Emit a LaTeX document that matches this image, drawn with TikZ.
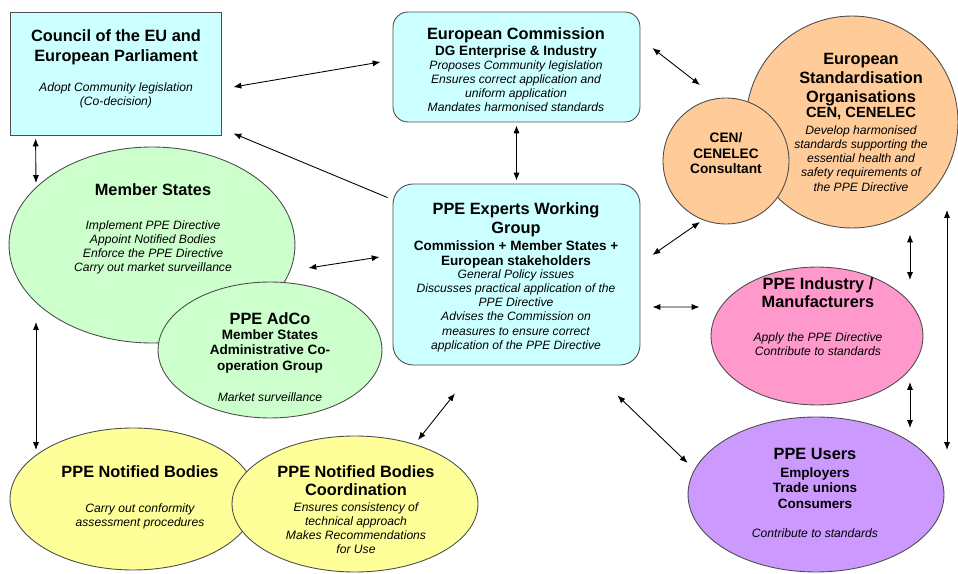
\documentclass[tikz,border=0pt]{standalone}
\usepackage{fontspec}
\setmainfont{Liberation Sans}
\usetikzlibrary{arrows.meta,shapes.geometric}

\definecolor{cyanfill}{HTML}{CCFFFF}
\definecolor{greenfill}{HTML}{CCFFCC}
\definecolor{yellowfill}{HTML}{FFFF99}
\definecolor{orangefill}{HTML}{FFCC99}
\definecolor{pinkfill}{HTML}{FF99CC}
\definecolor{lilacfill}{HTML}{CC99FF}

\newcommand\ppeTitle{\fontsize{9.3}{10.8}\selectfont\bfseries}
\newcommand\ppeSub{\fontsize{7.7}{8.8}\selectfont\bfseries}
\newcommand\ppeNote{\fontsize{6.9}{8.1}\selectfont\itshape}

\tikzset{
	body/.style={draw=black!70, line width=0.5pt, inner sep=0pt},
	oval/.style={body, ellipse},
	ttl/.style={anchor=north, inner sep=0pt, align=center, font=\ppeTitle},
	sbt/.style={anchor=north, inner sep=0pt, align=center, font=\ppeSub},
	nte/.style={anchor=north, inner sep=0pt, align=center, font=\ppeNote},
	link/.style={{Latex[length=4.5pt,width=3.5pt]}-{Latex[length=4.5pt,width=3.5pt]}, line width=0.5pt},
	onelink/.style={-{Latex[length=4.5pt,width=3.5pt]}, line width=0.5pt}
}

\begin{document}
\begin{tikzpicture}[x=0.02cm, y=-0.02cm]
		%%%%% START %%%%%
		\useasboundingbox (0,0) rectangle (958,574);
		
		% Council and Commission
		\node[body, fill=cyanfill, minimum width=4.22cm, minimum height=2.46cm] (cou) at (115.5,73.5) {};
		\node[ttl] (couT) at (116,29) {Council of the EU and\\[0.5pt]European Parliament};
		\node[nte] (couN) at (116,82) {Adopt Community legislation\\(Co-decision)};
		
		\node[body, fill=cyanfill, rounded corners=0.3cm, minimum width=4.94cm, minimum height=2.2cm] (ec) at (516.5,67) {};
		\node[ttl] (ecT) at (516,27) {European Commission};
		\node[sbt] (ecS) at (516,45) {DG Enterprise \& Industry};
		\node[nte] (ecN) at (516,60) {Proposes Community legislation\\Ensures correct application and\\uniform application\\Mandates harmonised standards};
		
		\node[body, fill=cyanfill, rounded corners=0.4cm, minimum width=4.94cm, minimum height=3.62cm] (ewg) at (516.5,274.5) {};
		\node[ttl] (ewgT) at (516,202) {PPE Experts Working\\Group};
		\node[sbt] (ewgS) at (516,240) {Commission + Member States +\\European stakeholders};
		\node[nte] (ewgN) at (516,269) {General Policy issues\\Discusses practical application of the\\PPE Directive\\Advises the Commission on\\measures to ensure correct\\application of the PPE Directive};
		
		% standardisation
		\node[body, circle, fill=orangefill, minimum size=4.24cm] (eso) at (852,122) {};
		\node[ttl] (esoT) at (861,53) {European\\Standardisation\\Organisations};
		\node[sbt, font=\fontsize{8.4}{9}\selectfont\bfseries] (esoS) at (861,107) {CEN, CENELEC};
		\node[nte] (esoN) at (861,125) {Develop harmonised\\standards supporting the\\essential health and\\safety requirements of\\the PPE Directive};
		
		\node[body, circle, fill=orangefill, minimum size=2.52cm] (cons) at (726,161) {};
		\node[sbt, font=\fontsize{7.8}{9}\selectfont\bfseries] (consT) at (726,132) {CEN/\\CENELEC\\Consultant};
		
		% member states
		\node[oval, fill=greenfill, minimum width=5.72cm, minimum height=3.92cm] (ms) at (152,245) {};
		\node[ttl] (msT) at (153,183) {Member States};
		\node[nte] (msN) at (153,220) {Implement PPE Directive\\Appoint Notified Bodies\\Enforce the PPE Directive\\Carry out market surveillance};
		
		\node[oval, fill=greenfill, minimum width=4.48cm, minimum height=2.72cm] (adco) at (270,350) {};
		\node[ttl] (adcoT) at (270,312) {PPE AdCo};
		\node[sbt, font=\fontsize{7.7}{9}\selectfont\bfseries] (adcoS) at (270,329) {Member States\\Administrative Co-\\operation Group};
		\node[nte] (adcoN) at (270,392) {Market surveillance};
		
		% notified bodies
		\node[oval, fill=yellowfill, minimum width=4.92cm, minimum height=2.84cm] (nb) at (133,499) {};
		\node[ttl] (nbT) at (140,465) {PPE Notified Bodies};
		\node[nte] (nbN) at (140,503) {Carry out conformity\\assessment procedures};
		
		\node[oval, fill=yellowfill, minimum width=4.92cm, minimum height=2.72cm] (nbc) at (355,504) {};
		\node[ttl, font=\fontsize{9.3}{10.2}\selectfont\bfseries] (nbcT) at (356,465) {PPE Notified Bodies\\Coordination};
		\node[nte] (nbcN) at (356,502) {Ensures consistency of\\technical approach\\Makes Recommendations\\for Use};
		
		% industry and users
		\node[oval, fill=pinkfill, minimum width=4.24cm, minimum height=2.76cm] (ind) at (817,336) {};
		\node[ttl, font=\fontsize{9.3}{10.2}\selectfont\bfseries] (indT) at (818,277) {PPE Industry /\\Manufacturers};
		\node[nte] (indN) at (818,332) {Apply the PPE Directive\\Contribute to standards};
		
		\node[oval, fill=lilacfill, minimum width=5.12cm, minimum height=3.1cm] (usr) at (816,494.5) {};
		\node[ttl] (usrT) at (815,448) {PPE Users};
		\node[sbt] (usrS) at (815,467) {Employers\\Trade unions\\Consumers};
		\node[nte] (usrN) at (815,528) {Contribute to standards};
		
		% connectors
		\draw[link] ([shift={(12,13.5)}]cou.east) -- ([shift={(-12,-5)}]ec.west);
		\draw[onelink] ([shift={(-5,14)}]ewg.north west) -- ([shift={(12,-2)}]cou.south east);
		\draw[link] ([shift={(26,3)}]cou.south west) -- ([shift={(-116,-62)}]ms.center);
		\draw[link] ([shift={(0,3)}]ec.south) -- ([shift={(0,-3)}]ewg.north);
		\draw[link] ([shift={(12,-19)}]ec.east) -- ([shift={(-152,-37)}]eso.center);
		\draw[link] ([shift={(12,-19.5)}]ewg.east) -- ([shift={(-26,61)}]cons.center);
		\draw[link] ([shift={(13,23)}]ms.east) -- ([shift={(-13,-17.5)}]ewg.west);
		\draw[link] ([shift={(12,32.5)}]ewg.east) -- ([shift={(-11,-29)}]ind.west);
		\draw[link] ([shift={(58,6)}]eso.south) -- ([shift={(93,-56)}]ind.center);
		\draw[link] ([shift={(93,46)}]ind.center) -- ([shift={(94,-66.5)}]usr.center);
		\draw[link] ([shift={(95,88)}]eso.center) -- ([shift={(131,-44.5)}]usr.center);
		\draw[link] ([shift={(-23,30)}]ewg.south east) -- ([shift={(0,-31.5)}]usr.west);
		\draw[link] ([shift={(-116,77)}]ms.center) -- ([shift={(-97,-49)}]nb.center);
		\draw[link] ([shift={(-61.5,28)}]ewg.south) -- ([shift={(63,-64)}]nbc.center);
		
		%%%%% END %%%%%
	\end{tikzpicture}
\end{document}
